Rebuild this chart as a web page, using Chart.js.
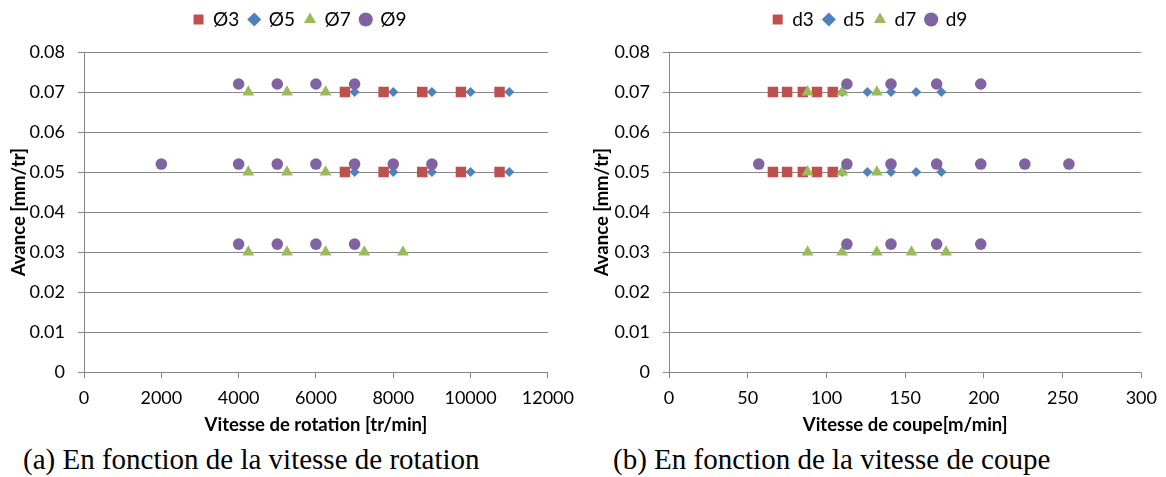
<!DOCTYPE html>
<html lang="fr">
<head>
    <meta charset="UTF-8">
    <title>Avance en fonction de la vitesse</title>
    <script src="https://cdn.jsdelivr.net/npm/chart.js"></script>
    <style>
        body { margin: 0; background: #fff; width: 1166px; height: 477px; position: relative; overflow: hidden; }
        .panel { position: absolute; top: 0; width: 583px; height: 440px; }
        .caption { position: absolute; top: 445px; line-height: 28px; font-family: "Liberation Serif", serif; font-size: 29px; color: #000; white-space: nowrap; }
    </style>
</head>
<body>
    <div class="panel" style="left: 0;"><canvas id="chartRotation" width="583" height="440"></canvas></div>
    <div class="panel" style="left: 583px;"><canvas id="chartCoupe" width="583" height="440"></canvas></div>
    <div class="caption" style="left: 23px;">(a) En fonction de la vitesse de rotation</div>
    <div class="caption" style="left: 613px;">(b) En fonction de la vitesse de coupe</div>

    <script>
        // --- données ---
        const seriesRotation = ['Ø3', 'Ø5', 'Ø7', 'Ø9'];
        const seriesCoupe = ['d3', 'd5', 'd7', 'd9'];

        // avance [mm/tr] pour chaque série
        const avanceD3 = [0.07, 0.07, 0.07, 0.07, 0.07, 0.05, 0.05, 0.05, 0.05, 0.05];
        const avanceD5 = [0.07, 0.07, 0.07, 0.07, 0.07, 0.05, 0.05, 0.05, 0.05, 0.05];
        const avanceD7 = [0.07, 0.07, 0.07, 0.05, 0.05, 0.05, 0.03, 0.03, 0.03, 0.03, 0.03];
        const avanceD9 = [0.072, 0.072, 0.072, 0.072, 0.052, 0.052, 0.052, 0.052, 0.052, 0.052, 0.052, 0.032, 0.032, 0.032, 0.032];

        // (a) vitesse de rotation [tr/min]
        const rotationD3 = [6750, 7750, 8750, 9750, 10750, 6750, 7750, 8750, 9750, 10750];
        const rotationD5 = [7000, 8000, 9000, 10000, 11000, 7000, 8000, 9000, 10000, 11000];
        const rotationD7 = [4250, 5250, 6250, 4250, 5250, 6250, 4250, 5250, 6250, 7250, 8250];
        const rotationD9 = [4000, 5000, 6000, 7000, 2000, 4000, 5000, 6000, 7000, 8000, 9000, 4000, 5000, 6000, 7000];

        // (b) vitesse de coupe [m/min]
        const coupeD3 = [66, 75, 85, 94, 104, 66, 75, 85, 94, 104];
        const coupeD5 = [110, 126, 141, 157, 173, 110, 126, 141, 157, 173];
        const coupeD7 = [88, 110, 132, 88, 110, 132, 88, 110, 132, 154, 176];
        const coupeD9 = [113, 141, 170, 198, 57, 113, 141, 170, 198, 226, 254, 113, 141, 170, 198];

        const avanceTicks = [0, 0.01, 0.02, 0.03, 0.04, 0.05, 0.06, 0.07, 0.08];
        const rotationTicks = [0, 2000, 4000, 6000, 8000, 10000, 12000];
        const coupeTicks = [0, 50, 100, 150, 200, 250, 300];

        const couleurs = ['#C0504D', '#4F81BD', '#9BBB59', '#8064A2'];
        const formes = ['rect', 'rectRot', 'triangle', 'circle'];
        const tailles = [7.4, 5, 6.8, 5.8];
        const gris = '#868686';

        Chart.defaults.font.family = 'Lato, "Liberation Sans", sans-serif';
        Chart.defaults.font.size = 18;
        Chart.defaults.color = '#000';

        // room under the legend, and nudge it sideways like in the original
        function legendTweak(decalage) {
            return {
                id: 'legendTweak',
                beforeInit(chart) {
                    const fit = chart.legend.fit;
                    chart.legend.fit = function () {
                        fit.bind(chart.legend)();
                        this.height += 13;
                    };
                },
                afterLayout(chart) {
                    chart.legend.left += decalage;
                    chart.legend.right += decalage;
                }
            };
        }

        function pts(xs, ys) {
            return xs.map((x, i) => ({ x: x, y: ys[i] }));
        }

        function makeChart(id, noms, xs, ticksX, titreX, largeurY, margeDroite, decalage) {
            const ys = [avanceD3, avanceD5, avanceD7, avanceD9];
            const datasets = noms.map((nom, i) => ({
                label: nom,
                data: pts(xs[i], ys[i]),
                pointStyle: formes[i],
                pointRadius: tailles[i],
                pointHoverRadius: tailles[i],
                backgroundColor: couleurs[i],
                borderColor: couleurs[i],
                pointBorderWidth: 0,
                showLine: false,
                order: 3 - i
            }));

            return new Chart(document.getElementById(id), {
                type: 'scatter',
                data: { datasets: datasets },
                options: {
                    responsive: false,
                    animation: false,
                    layout: { padding: { top: 0, right: margeDroite, bottom: 0, left: 0 } },
                    plugins: {
                        legend: {
                            position: 'top',
                            labels: {
                                usePointStyle: true,
                                boxWidth: 10,
                                boxHeight: 10,
                                padding: 10,
                                font: { size: 19 },
                                sort: (a, b) => a.datasetIndex - b.datasetIndex
                            }
                        },
                        tooltip: { enabled: false }
                    },
                    scales: {
                        x: {
                            type: 'linear',
                            min: ticksX[0],
                            max: ticksX[ticksX.length - 1],
                            afterBuildTicks: (s) => { s.ticks = ticksX.map(v => ({ value: v })); },
                            ticks: { padding: 9, maxRotation: 0, callback: (v) => String(v) },
                            grid: { drawOnChartArea: false, color: gris, tickLength: 6 },
                            border: { color: gris },
                            title: { display: true, text: titreX, font: { weight: 'bold', size: 18.5 }, padding: { top: -4, bottom: 4 } }
                        },
                        y: {
                            min: 0,
                            max: 0.08,
                            afterBuildTicks: (s) => { s.ticks = avanceTicks.map(v => ({ value: v })); },
                            afterFit: (s) => { s.width = largeurY; },
                            ticks: { padding: 13, callback: (v) => String(v) },
                            grid: { color: gris, tickLength: 6 },
                            border: { color: gris },
                            title: { display: true, text: 'Avance [mm/tr]', font: { weight: 'bold', size: 18.5 }, padding: { top: 8, bottom: 4 } }
                        }
                    }
                },
                plugins: [legendTweak(decalage)]
            });
        }

        makeChart('chartRotation', seriesRotation,
            [rotationD3, rotationD5, rotationD7, rotationD9],
            rotationTicks, 'Vitesse de rotation [tr/min]', 84, 31, 24);

        makeChart('chartCoupe', seriesCoupe,
            [coupeD3, coupeD5, coupeD7, coupeD9],
            coupeTicks, 'Vitesse de coupe[m/min]', 86, 19, 5);
    </script>
</body>
</html>
